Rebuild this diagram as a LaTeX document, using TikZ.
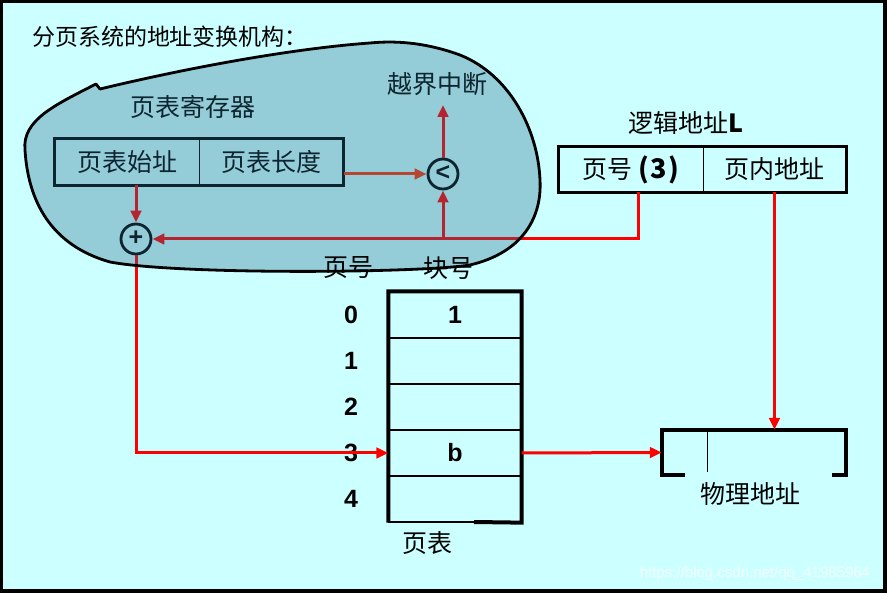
\documentclass[tikz,border=0pt]{standalone}
\usepackage{fontspec}
\setmainfont{Liberation Sans}
\newfontfamily\cjk{Noto Sans CJK SC}
\usetikzlibrary{arrows.meta}
\definecolor{bgc}{RGB}{204,255,255}
\definecolor{blobc}{RGB}{41,109,141}
\definecolor{lred}{RGB}{255,0,0}
\definecolor{ored}{RGB}{255,51,0}
\begin{document}
\begin{tikzpicture}[x=1pt,y=-1pt,
  cjkf/.style={font=\cjk\fontsize{25pt}{30pt}\selectfont, inner sep=0pt},
  numf/.style={font=\bfseries\fontsize{25pt}{30pt}\selectfont, inner sep=0pt},
  cell/.style={draw, line width=1pt, inner sep=0pt, cjkf},
  rowcell/.style={draw, line width=1.3pt, inner sep=0pt, numf, minimum width=132pt, minimum height=46pt},
  opcirc/.style={circle, draw, line width=2.8pt, minimum size=30pt, inner sep=0pt, font=\bfseries\fontsize{25pt}{26pt}\selectfont},
  redarr/.style={draw=lred, line width=3pt, -{Triangle[length=12pt,width=10.5pt]}},
]
\useasboundingbox (0,0) rectangle (887,593);
\fill[black] (0,0) rectangle (887,593);
\fill[bgc] (3,3) rectangle (883,589);

% title
\node[font=\cjk\fontsize{23pt}{27pt}\selectfont, inner sep=0pt] (title) at (170,37) {分页系统的地址变换机构：};

% page-table register
\node[cjkf] (regl) at (193,107) {页表寄存器};
\node[cell, minimum width=144pt, minimum height=46pt] (rs) at (127,162) {页表始址};
\node[cell, minimum width=144pt, minimum height=46pt] (rl) at (271,162) {页表长度};
\draw[line width=3.5pt] (rs.north west) rectangle (rl.south east);

% comparator and adder
\node[opcirc] (cmp) at (443,174) {\raisebox{1pt}{<}};
\node[opcirc] (plus) at (136,239) {\raisebox{1pt}{+}};
\node[cjkf] (ovfl) at (437,84) {越界中断};
\coordinate (ovf) at (443,105);

% logical address
\node[font=\cjk\fontsize{25pt}{30pt}\selectfont, inner sep=0pt] (lal) at (686,123) {逻辑地址\textbf{L}};
\node[cell, minimum width=144pt, minimum height=45pt] (la1) at (631,169.5) {页号 \textbf{\fontsize{27pt}{30pt}\selectfont(\kern1.5pt3\kern1.5pt)}};
\node[cell, minimum width=143pt, minimum height=45pt] (la2) at (774.5,169.5) {页内地址};
\draw[line width=3.5pt] (la1.north west) rectangle (la2.south east);

% page table
\node[rowcell] (r0) at (455,315) {1};
\node[rowcell] (r1) at (455,361) {};
\node[rowcell] (r2) at (455,407) {};
\node[rowcell] (r3) at (455,453) {b};
\node[rowcell] (r4) at (455,499) {};
\draw[line width=4pt] (474,522) -- (r4.south east) -- (r0.north east) -- (r0.north west) -- (r4.south west);
\foreach \i/\yy in {0/315,1/361,2/407,3/453,4/499}{
  \node[numf] (n\i) at (351,\yy) {\i};
}
\node[cjkf] (ptl) at (427,543) {页表};

% physical address
\node[minimum width=184pt, minimum height=45pt, inner sep=0pt] (phys) at (754,452.5) {};
\draw[line width=4pt] (685,475) -- (662,475) -- (662,430) -- (846,430) -- (846,475) -- (832,475);
\draw[line width=1pt] (707,430) -- (707,472);
\node[cjkf] (physl) at (750,494) {物理地址};

% red connectors
\draw[redarr] (plus.north |- rs.south) -- (plus.north);
\draw[redarr, draw=ored] (rl.east |- cmp.west) -- (cmp.west);
\draw[redarr] (cmp.north) -- (ovf);
\coordinate (pj) at (638,239);
\draw[redarr] (la1.south -| pj) -- (pj) -- (plus.east);
\draw[redarr] (pj -| cmp.south) -- (cmp.south);
\draw[redarr] (plus.south) -- (plus.south |- r3.west) -- (r3.west);
\draw[redarr] (r3.east) -- (phys.west);
\draw[redarr] (la2.south) -- (la2.south |- phys.north);

% translucent blob
\def\blobpath{(96,84) .. controls (55,105) and (22,120) .. (25,150)
  .. controls (28,200) and (50,245) .. (110,262)
  .. controls (180,275) and (420,273) .. (470,265)
  .. controls (525,252) and (542,215) .. (540,180)
  .. controls (538,130) and (510,75) .. (460,55)
  .. controls (430,44) and (400,40) .. (370,43)
  .. controls (300,48) and (200,65) .. (100,89) -- cycle}
\fill[blobc, fill opacity=0.34] \blobpath;
\draw[line width=2.8pt, line join=round] \blobpath;

\node[cjkf] (pnl) at (348,268) {页号};
\node[cjkf] (bnl) at (448,268) {块号};

\node[text=white, text opacity=0.75, font=\fontsize{15pt}{18pt}\selectfont, inner sep=0pt] (wm) at (755,574) {https://blog.csdn.net/qq\_41985964};
\end{tikzpicture}
\end{document}
